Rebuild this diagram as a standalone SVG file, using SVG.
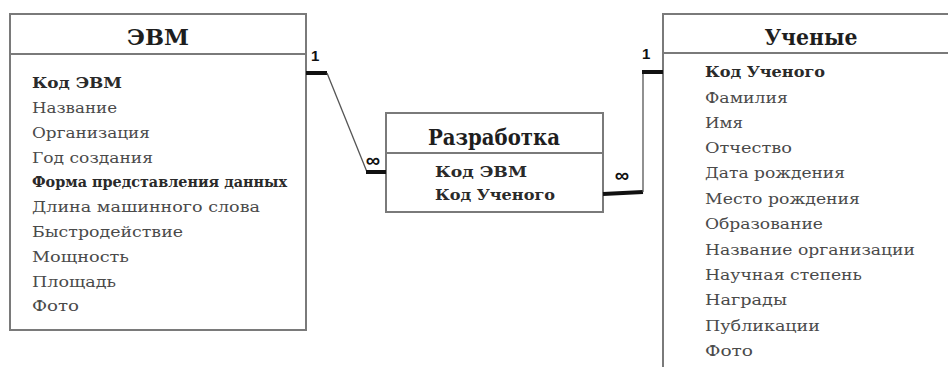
<svg xmlns="http://www.w3.org/2000/svg" width="948" height="367" viewBox="0 0 948 367">
  <style>
    .box { fill: #ffffff; stroke: #7a7a7a; stroke-width: 2; }
    .sep { stroke: #7a7a7a; stroke-width: 2; fill: none; }
    .title { font-size: 22px; font-weight: bold; fill: #1e1e1e; text-anchor: middle; }
    .row { font-size: 15px; fill: #4a4a4a; }
    .key { font-weight: bold; fill: #2a2a2a; }
    .line { stroke: #555555; stroke-width: 1.3; fill: none; }
    .thick { stroke: #111111; stroke-width: 4; fill: none; }
    .card { font-size: 15px; font-weight: bold; fill: #111111; }
    .inf { font-size: 20px; font-weight: bold; fill: #111111; text-anchor: middle; }
  </style>
  <rect width="948" height="367" fill="#ffffff"/>

  <g font-family="DejaVu Serif, serif">
  <!-- Entity: computers -->
  <g id="evm">
    <rect class="box" x="10" y="14" width="296" height="316"/>
    <line class="sep" x1="10" y1="54" x2="306" y2="54"/>
    <text class="title" x="158" y="45" textLength="62" lengthAdjust="spacingAndGlyphs">ЭВМ</text>
    <text class="row key" x="32" y="88" textLength="90" lengthAdjust="spacingAndGlyphs">Код ЭВМ</text>
    <text class="row" x="32" y="113" textLength="85" lengthAdjust="spacingAndGlyphs">Название</text>
    <text class="row" x="32" y="138" textLength="118" lengthAdjust="spacingAndGlyphs">Организация</text>
    <text class="row" x="32" y="163" textLength="121" lengthAdjust="spacingAndGlyphs">Год создания</text>
    <text class="row key" x="32" y="187" textLength="255" lengthAdjust="spacingAndGlyphs">Форма представления данных</text>
    <text class="row" x="32" y="212" textLength="228" lengthAdjust="spacingAndGlyphs">Длина машинного слова</text>
    <text class="row" x="32" y="237" textLength="151" lengthAdjust="spacingAndGlyphs">Быстродействие</text>
    <text class="row" x="32" y="262" textLength="97" lengthAdjust="spacingAndGlyphs">Мощность</text>
    <text class="row" x="32" y="287" textLength="84" lengthAdjust="spacingAndGlyphs">Площадь</text>
    <text class="row" x="32" y="311" textLength="47" lengthAdjust="spacingAndGlyphs">Фото</text>
  </g>

  <!-- Link entity: development -->
  <g id="razrabotka">
    <rect class="box" x="386" y="113" width="217" height="99"/>
    <line class="sep" x1="386" y1="153" x2="603" y2="153"/>
    <text class="title" x="494" y="145" textLength="132" lengthAdjust="spacingAndGlyphs">Разработка</text>
    <text class="row key" x="435" y="177" textLength="92" lengthAdjust="spacingAndGlyphs">Код ЭВМ</text>
    <text class="row key" x="435" y="200" textLength="120" lengthAdjust="spacingAndGlyphs">Код Ученого</text>
  </g>

  <!-- Entity: scientists -->
  <g id="uchenye">
    <path class="sep" d="M663 370 V14 H952"/>
    <line class="sep" x1="663" y1="53" x2="952" y2="53"/>
    <text class="title" x="811" y="45" textLength="93" lengthAdjust="spacingAndGlyphs">Ученые</text>
    <text class="row key" x="705" y="77" textLength="120" lengthAdjust="spacingAndGlyphs">Код Ученого</text>
    <text class="row" x="705" y="103" textLength="83" lengthAdjust="spacingAndGlyphs">Фамилия</text>
    <text class="row" x="705" y="128" textLength="38" lengthAdjust="spacingAndGlyphs">Имя</text>
    <text class="row" x="705" y="153" textLength="87" lengthAdjust="spacingAndGlyphs">Отчество</text>
    <text class="row" x="705" y="178" textLength="140" lengthAdjust="spacingAndGlyphs">Дата рождения</text>
    <text class="row" x="705" y="204" textLength="155" lengthAdjust="spacingAndGlyphs">Место рождения</text>
    <text class="row" x="705" y="229" textLength="118" lengthAdjust="spacingAndGlyphs">Образование</text>
    <text class="row" x="705" y="255" textLength="210" lengthAdjust="spacingAndGlyphs">Название организации</text>
    <text class="row" x="705" y="280" textLength="157" lengthAdjust="spacingAndGlyphs">Научная степень</text>
    <text class="row" x="705" y="305" textLength="82" lengthAdjust="spacingAndGlyphs">Награды</text>
    <text class="row" x="705" y="331" textLength="115" lengthAdjust="spacingAndGlyphs">Публикации</text>
    <text class="row" x="705" y="356" textLength="48" lengthAdjust="spacingAndGlyphs">Фото</text>
  </g>
  </g>

  <!-- Relationships -->
  <g id="connectors" font-family="Liberation Sans, Arial, DejaVu Sans, sans-serif">
    <!-- ЭВМ 1 — ∞ Разработка -->
    <line class="thick" x1="306" y1="73" x2="327" y2="73"/>
    <polyline class="line" points="327,73 367,172"/>
    <line class="thick" x1="366" y1="172" x2="386" y2="172"/>
    <text class="card" x="311" y="61">1</text>
    <text class="inf" x="373" y="167">∞</text>
    <!-- Ученые 1 — ∞ Разработка -->
    <line class="thick" x1="603" y1="194" x2="643" y2="192"/>
    <line class="line" x1="643" y1="192" x2="643" y2="72"/>
    <line class="thick" x1="642" y1="72" x2="663" y2="72"/>
    <text class="card" x="642" y="59">1</text>
    <text class="inf" x="622" y="182">∞</text>
  </g>
</svg>
